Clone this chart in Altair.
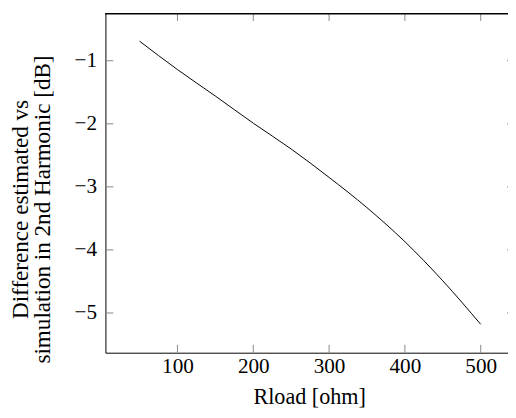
import altair as alt
import pandas as pd

# Data
rload = [50, 100, 150, 200, 250, 300, 350, 400, 450, 500]
diff_db = [-0.69, -1.14, -1.56, -1.99, -2.40, -2.85, -3.33, -3.87, -4.49, -5.18]

x_ticks = [100, 200, 300, 400, 500]
y_ticks = [-1, -2, -3, -4, -5]

W, H = 409, 345
FONT = "Liberation Serif"

df = pd.DataFrame({"r": rload, "d": diff_db})
dfx = pd.DataFrame({"r": x_ticks})
dfy = pd.DataFrame({"d": y_ticks})

xscale = alt.Scale(domain=[5, 536], nice=False, zero=False)
yscale = alt.Scale(domain=[-5.63, -0.245], nice=False, zero=False)

line = alt.Chart(df).mark_line(color="black", strokeWidth=1, interpolate="monotone", clip=True).encode(
    x=alt.X("r:Q", scale=xscale,
            axis=alt.Axis(values=x_ticks, format="d", title="Rload [ohm]", tickSize=0, labelPadding=3,
                          labelFont=FONT, labelFontSize=21.5, titleFont=FONT, titleFontSize=22.5,
                          grid=False, domainColor="black", domainWidth=1,
                          titleX=207, titleY=52, titleBaseline="alphabetic", titleAlign="center")),
    y=alt.Y("d:Q", scale=yscale,
            axis=alt.Axis(values=y_ticks, format="d",
                          title=["Difference estimated vs", "simulation in 2nd Harmonic [dB]"],
                          labelFont=FONT, labelFontSize=21.5, titleFont=FONT, titleFontSize=23.5,
                          tickSize=0, labelPadding=9, grid=False, domainColor="black", domainWidth=1,
                          titleAngle=270, titleAlign="center", titleBaseline="alphabetic",
                          titleX=-79, titleY=199, titleLineHeight=22)),
)

tick_color = "#888888"
bottom_ticks = alt.Chart(dfx).mark_rule(color=tick_color, strokeWidth=1).encode(
    x="r:Q", y=alt.value(H), y2=alt.value(H - 8))
top_ticks = alt.Chart(dfx).mark_rule(color=tick_color, strokeWidth=1).encode(
    x="r:Q", y=alt.value(0), y2=alt.value(8))
left_ticks = alt.Chart(dfy).mark_rule(color=tick_color, strokeWidth=1).encode(
    y="d:Q", x=alt.value(0), x2=alt.value(8))
right_ticks = alt.Chart(dfy).mark_rule(color=tick_color, strokeWidth=1).encode(
    y="d:Q", x=alt.value(W - 1), x2=alt.value(W + 7))
top_border = alt.Chart(dfx).mark_rule(color="black", strokeWidth=1).encode(
    x=alt.value(0), x2=alt.value(W + 10), y=alt.value(0.5))

chart = alt.layer(line, bottom_ticks, top_ticks, left_ticks, right_ticks, top_border).properties(
    width=W, height=H,
    padding={"left": 99, "top": 2, "right": 0, "bottom": 55},
    autosize=alt.AutoSizeParams(type="none"),
).configure_view(stroke=None).configure_axis(
    labelFont=FONT, titleFont=FONT,
    labelColor="black", titleColor="black", titleFontWeight="normal",
)

chart.save("out.html", embed_options={"renderer": "svg", "actions": False})
